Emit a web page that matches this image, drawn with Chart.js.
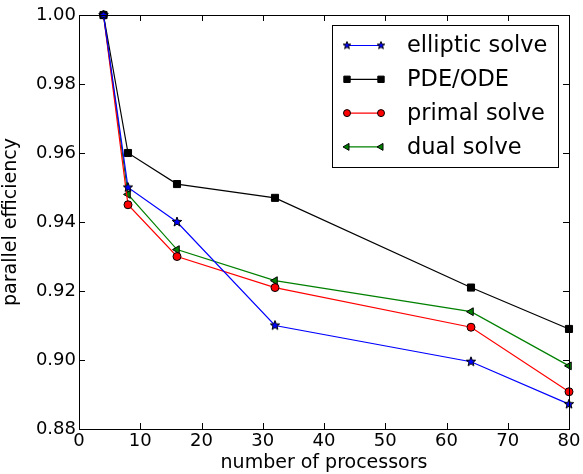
<!DOCTYPE html>
<html>
<head>
<meta charset="utf-8">
<script src="https://cdn.jsdelivr.net/npm/chart.js@4/dist/chart.umd.min.js"></script>
<style>
  html, body { margin: 0; padding: 0; background: #fff; }
  #wrap { width: 583px; height: 474px; }
</style>
</head>
<body>
<div id="wrap"><canvas id="c" width="583" height="474"></canvas></div>
<script>
// Processor counts and measured parallel efficiency per phase
const processors = [4, 8, 16, 32, 64, 80];
const ellipticSolve = [1.000, 0.950, 0.940, 0.910, 0.8995, 0.8872];
const pdeOde       = [1.000, 0.960, 0.951, 0.947, 0.921, 0.909];
const primalSolve  = [1.000, 0.945, 0.930, 0.921, 0.9095, 0.8908];
const dualSolve    = [1.000, 0.948, 0.932, 0.923, 0.914, 0.8983];

const xTicks = [0, 10, 20, 30, 40, 50, 60, 70, 80];
const yTicks = [0.88, 0.90, 0.92, 0.94, 0.96, 0.98, 1.00];

const FONT = '"DejaVu Sans", sans-serif';

// Filled five-point star marker (blue face, dark edge)
function makeStar(r, fill) {
  const s = Math.ceil(r * 2 + 4);
  const cv = document.createElement('canvas');
  cv.width = s; cv.height = s;
  const g = cv.getContext('2d');
  const cx = s / 2, cy = s / 2, ri = r * 0.42;
  g.beginPath();
  for (let i = 0; i < 10; i++) {
    const rad = i % 2 === 0 ? r : ri;
    const a = -Math.PI / 2 + i * Math.PI / 5;
    const px = cx + rad * Math.cos(a), py = cy + rad * Math.sin(a);
    if (i === 0) g.moveTo(px, py); else g.lineTo(px, py);
  }
  g.closePath();
  g.fillStyle = fill; g.fill();
  g.lineWidth = 1; g.strokeStyle = '#000'; g.stroke();
  return cv;
}
const starImg = makeStar(5, '#0000ff');
const starSmall = makeStar(4, '#0000ff');

function pts(ys) { return processors.map((x, i) => ({ x, y: ys[i] })); }

const datasets = [
  { label: 'elliptic solve', data: pts(ellipticSolve), borderColor: '#0000ff', backgroundColor: '#0000ff',
    pointStyle: starImg, legendStyle: starSmall, pointRadius: 5 },
  { label: 'PDE/ODE', data: pts(pdeOde), borderColor: '#000000', backgroundColor: '#000000',
    pointStyle: 'rect', pointRadius: 5, pointBorderColor: '#000' },
  { label: 'primal solve', data: pts(primalSolve), borderColor: '#ff0000', backgroundColor: '#ff0000',
    pointStyle: 'circle', pointRadius: 4, pointBorderColor: '#000' },
  { label: 'dual solve', data: pts(dualSolve), borderColor: '#008000', backgroundColor: '#008000',
    pointStyle: 'triangle', pointRotation: -90, pointRadius: 4.5, pointBorderColor: '#000' }
];
datasets.forEach(d => {
  d.borderWidth = 1.2;
  d.pointBorderWidth = 1;
  d.pointHoverRadius = d.pointRadius;
  d.fill = false;
  d.tension = 0;
  d.clip = false;
});

// Frame, inward ticks on all four sides, and the boxed legend
const framePlugin = {
  id: 'frame',
  afterDatasetsDraw(chart) {
    const { ctx, chartArea: a, scales } = chart;
    ctx.save();
    ctx.strokeStyle = '#000';
    ctx.lineWidth = 1;
    const L = 6;
    ctx.beginPath();
    xTicks.forEach(v => {
      const px = Math.round(scales.x.getPixelForValue(v)) + 0.5;
      ctx.moveTo(px, a.bottom); ctx.lineTo(px, a.bottom - L);
      ctx.moveTo(px, a.top); ctx.lineTo(px, a.top + L);
    });
    yTicks.forEach(v => {
      const py = Math.round(scales.y.getPixelForValue(v)) + 0.5;
      ctx.moveTo(a.left, py); ctx.lineTo(a.left + L, py);
      ctx.moveTo(a.right, py); ctx.lineTo(a.right - L, py);
    });
    ctx.stroke();
    ctx.strokeRect(Math.round(a.left) + 0.5, Math.round(a.top) + 0.5,
                   Math.round(a.right - a.left), Math.round(a.bottom - a.top));

    // legend
    const bx = 332.5, by = 25.5, bw = 226, bh = 142;
    ctx.fillStyle = '#fff';
    ctx.fillRect(bx, by, bw, bh);
    ctx.strokeRect(bx, by, bw, bh);
    const rowY0 = 45.5, rowStep = 33.8, x1 = 347, x2 = 381;
    ctx.font = '22.5px ' + FONT;
    ctx.textBaseline = 'middle';
    chart.data.datasets.forEach((d, i) => {
      const y = rowY0 + i * rowStep;
      ctx.strokeStyle = d.borderColor;
      ctx.lineWidth = 1.2;
      ctx.beginPath(); ctx.moveTo(x1, y); ctx.lineTo(x2, y); ctx.stroke();
      // drawPoint uses the current context fill/stroke
      ctx.fillStyle = d.backgroundColor;
      ctx.strokeStyle = '#000';
      ctx.lineWidth = 1;
      [x1, x2].forEach(x => {
        Chart.helpers.drawPoint(ctx, {
          pointStyle: d.legendStyle || d.pointStyle, rotation: d.pointRotation || 0,
          radius: d.pointRadius - 0.5, borderWidth: 1
        }, x, y);
      });
      ctx.fillStyle = '#000';
      ctx.fillText(d.label, 407, y + 1);
    });
    ctx.restore();
  }
};

new Chart(document.getElementById('c'), {
  type: 'line',
  data: { datasets },
  plugins: [framePlugin],
  options: {
    responsive: false,
    animation: false,
    devicePixelRatio: 1,
    layout: { padding: { top: 15, right: 14, left: 0, bottom: 0 } },
    plugins: { legend: { display: false }, tooltip: { enabled: false } },
    scales: {
      x: {
        type: 'linear', min: 0, max: 80,
        afterBuildTicks: s => { s.ticks = xTicks.map(v => ({ value: v })); },
        afterFit: s => { s.height = 45; },
        grid: { display: false, drawTicks: false },
        border: { display: false },
        ticks: { color: '#000', font: { family: FONT, size: 18 }, padding: 2,
                 callback: v => String(v) },
        title: { display: true, text: 'number of processors', color: '#000',
                 font: { family: FONT, size: 19 }, padding: { top: 0, bottom: 0 } }
      },
      y: {
        type: 'linear', min: 0.88, max: 1.00,
        afterBuildTicks: s => { s.ticks = yTicks.map(v => ({ value: v })); },
        afterFit: s => { s.width = 79; },
        grid: { display: false, drawTicks: false },
        border: { display: false },
        ticks: { color: '#000', font: { family: FONT, size: 18 }, padding: 3,
                 callback: v => v.toFixed(2) },
        title: { display: true, text: 'parallel efficiency', color: '#000',
                 font: { family: FONT, size: 19 }, padding: { top: 0, bottom: 0 } }
      }
    }
  }
});
</script>
</body>
</html>
